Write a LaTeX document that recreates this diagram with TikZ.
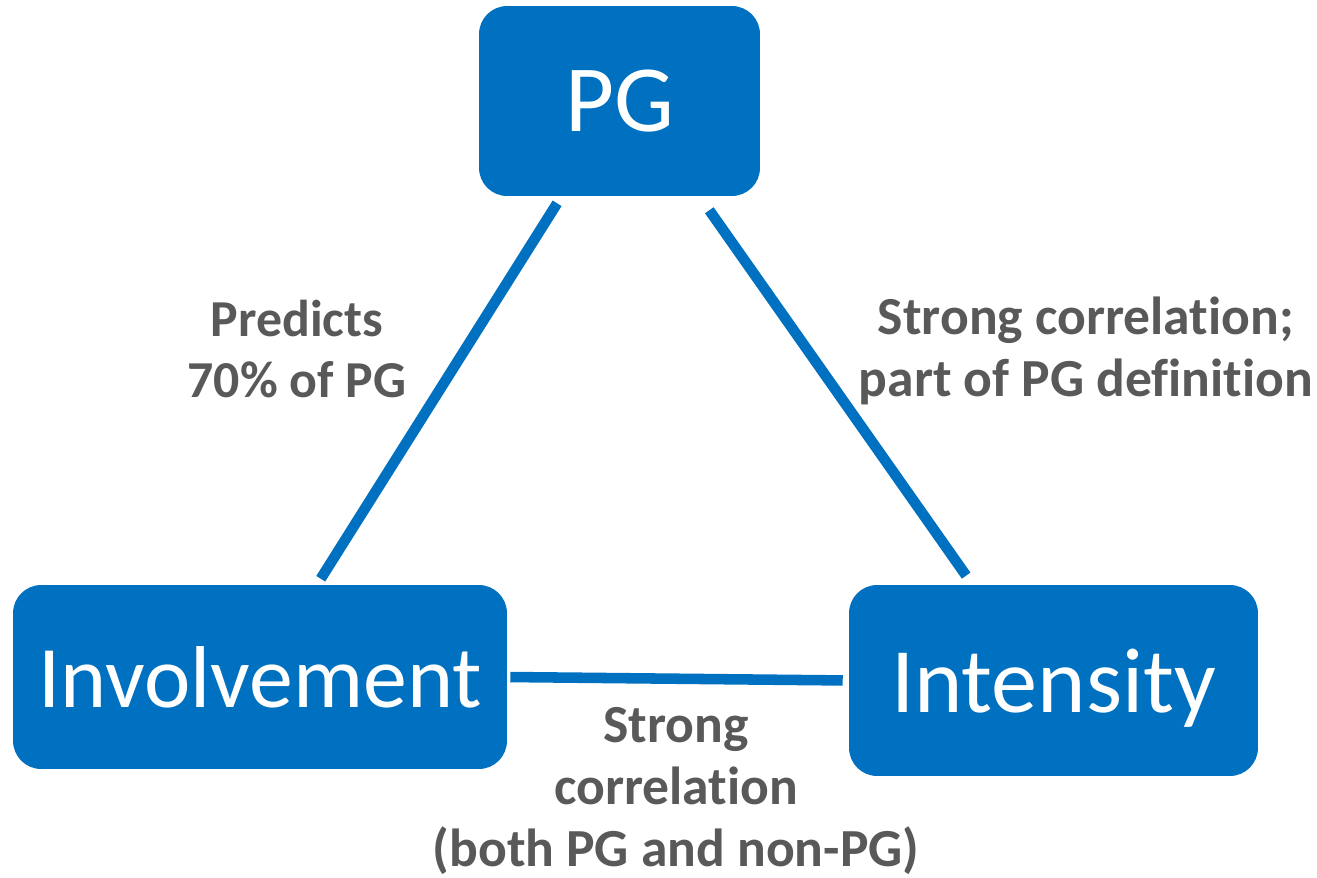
\documentclass[tikz,border=0pt]{standalone}
\usepackage{fontspec}
\setmainfont{Carlito}[Ligatures=NoCommon]
\usetikzlibrary{calc}
\definecolor{boxblue}{HTML}{0070C0}
\definecolor{labelgrey}{HTML}{595959}

\begin{document}
\begin{tikzpicture}[x=0.02cm, y=-0.02cm,
  box/.style={fill=boxblue, rounded corners=16pt, inner sep=0pt, text=white, text depth=0pt},
  link/.style={draw=boxblue, line width=6pt},
  lbl/.style={text=labelgrey, align=center, font=\bfseries\fontsize{30.5}{35.5}\selectfont}]
\useasboundingbox (0,0) rectangle (1317,878);
\node[box, minimum width=5.62cm, minimum height=3.8cm, font=\fontsize{54}{60}\selectfont] (pg) at (619.5,101) {PG};
\node[box, minimum width=9.88cm, minimum height=3.68cm, font=\fontsize{50}{56}\selectfont] (inv) at (260,677) {Involvement};
\node[box, minimum width=8.18cm, minimum height=3.82cm, font=\fontsize{52.5}{58}\selectfont] (int) at (1053.5,680.5) {Intensity};
\draw[link, shorten <=4.7pt, shorten >=4pt] ($(pg.south)+(-58,0)$) -- ($(inv.north)+(57,0)$);
\draw[link, shorten <=9.7pt, shorten >=6.3pt] ($(pg.south)+(80,0)$) -- ($(int.north)+(-81,0)$);
\draw[link, shorten <=1.7pt, shorten >=3.4pt] (inv.east) -- (int.west);
\node[lbl, font=\bfseries\fontsize{29.5}{35}\selectfont] (predicts) at (297,349) {Predicts\\70\% of PG};
\node[lbl] (defn) at (1086,351) {Strong correlation;\\part of PG definition};
\node[lbl] (both) at (676,791) {Strong\\correlation\\(both PG and non-PG)};
\end{tikzpicture}
\end{document}
